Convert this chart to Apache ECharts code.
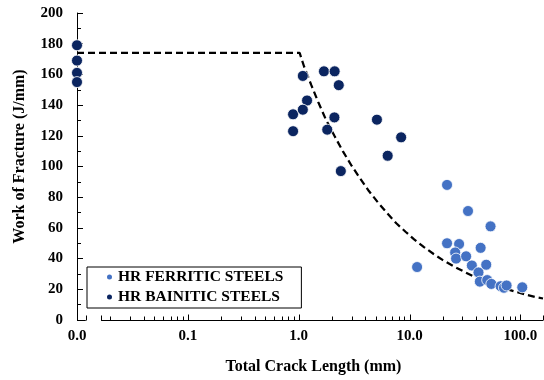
<!DOCTYPE html>
<html>
<head>
    <meta charset="utf-8">
    <title>Work of Fracture</title>
    <script src="https://cdn.jsdelivr.net/npm/echarts@6/dist/echarts.min.js"></script>
    <style>
        body { margin: 0; background: #fff; }
        #main { width: 544px; height: 380px; }
    </style>
</head>
<body>
<div id="main"></div>
<script type="text/javascript">
// 数据: [裂纹总长 mm, 断裂功 J/mm]
var ferritic = [
    [21.8, 88], [33.7, 71], [53.8, 61], [21.8, 50], [28.0, 49.5],
    [43.8, 47], [25.8, 44], [26.3, 40], [32.4, 41.5], [36.5, 35.5],
    [49.2, 36], [41.9, 31], [11.7, 34.5], [43.1, 25], [50.2, 26],
    [54.7, 23.5], [66.3, 22], [71.1, 21], [75.1, 22.5], [104, 21.3]
];
var bainitic = [
    [0.01, 179], [0.01, 169], [0.01, 161], [0.01, 155],
    [1.09, 159], [1.69, 162], [2.11, 162], [2.30, 153], [1.19, 143],
    [0.89, 134], [1.09, 137], [2.10, 132], [5.08, 130.5], [0.89, 123],
    [1.81, 124], [8.4, 119], [6.35, 107], [2.40, 97]
];
// 虚线
var trend = [
    [0.01, 174], [1.02, 174], [1.12, 165], [1.3, 153], [1.5, 142],
    [1.75, 131], [2.1, 120], [2.5, 110], [3.0, 100.5], [3.6, 92],
    [4.3, 84], [5.2, 76.5], [6.3, 69.5], [7.6, 63], [9.2, 57.5],
    [11, 52.5], [13.5, 47.5], [16.5, 43], [20, 39], [25, 35],
    [31, 31.5], [38, 28.3], [47, 25.5], [58, 23], [72, 20.6],
    [90, 18.5], [112, 16.5], [135, 15], [160, 14]
];
var majorTicks = [0.01, 0.1, 1, 10, 100];
var minorTicks = [
    0.02, 0.03, 0.04, 0.05, 0.06, 0.07, 0.08, 0.09,
    0.2, 0.3, 0.4, 0.5, 0.6, 0.7, 0.8, 0.9,
    2, 3, 4, 5, 6, 7, 8, 9,
    20, 30, 40, 50, 60, 70, 80, 90
];
// x轴断开的两段
var axisSegments = [[0.01, 0.012], [0.0165, 160]];

var font = 'Liberation Serif';
var myChart = echarts.init(document.getElementById('main'));

function snap(v) { return Math.round(v) + 0.5; }

myChart.setOption({
    animation: false,
    textStyle: { fontFamily: font, fontWeight: 'bold', color: '#000' },
    grid: { left: 77, right: 1, top: 13, bottom: 60 },
    legend: {
        orient: 'vertical',
        left: 87,
        top: 267,
        data: ['HR FERRITIC STEELS', 'HR BAINITIC STEELS'],
        icon: 'circle',
        itemWidth: 7,
        itemHeight: 7,
        itemGap: 4,
        padding: [2, 18, 3, 18],
        borderColor: '#000',
        borderWidth: 1,
        textStyle: { fontFamily: font, fontWeight: 'bold', fontSize: 15.5, color: '#000' }
    },
    xAxis: {
        type: 'log',
        logBase: 10,
        min: 0.01,
        max: 160,
        name: 'Total Crack Length (mm)',
        nameLocation: 'middle',
        nameGap: 39,
        nameTextStyle: { fontFamily: font, fontWeight: 'bold', fontSize: 16, color: '#000', padding: [0, 0, 0, 7] },
        axisLine: { show: false },
        axisTick: { show: false },
        splitLine: { show: false },
        axisLabel: {
            margin: 9,
            fontFamily: font, fontWeight: 'bold', fontSize: 15, color: '#000',
            formatter: function (v) { return v.toFixed(1); }
        }
    },
    yAxis: {
        type: 'value',
        min: 0,
        max: 200,
        interval: 20,
        name: 'Work of Fracture (J/mm)',
        nameLocation: 'middle',
        nameGap: 49,
        nameTextStyle: { fontFamily: font, fontWeight: 'bold', fontSize: 16, color: '#000', padding: [0, 0, 0, 20] },
        axisLine: { show: true, lineStyle: { color: '#000', width: 1 } },
        axisTick: { show: true, inside: true, length: 6, lineStyle: { color: '#000' } },
        minorTick: { show: true, splitNumber: 2, length: 4, lineStyle: { color: '#000' } },
        splitLine: { show: false },
        axisLabel: { margin: 14, fontFamily: font, fontWeight: 'bold', fontSize: 15, color: '#000' }
    },
    series: [
        {
            name: 'trend',
            type: 'line',
            data: trend,
            showSymbol: false,
            smooth: false,
            lineStyle: { color: '#000', width: 2.25, type: [7, 4] },
            z: 1
        },
        {
            name: 'HR FERRITIC STEELS',
            type: 'scatter',
            data: ferritic,
            symbolSize: 11,
            itemStyle: { color: '#4472C4', borderColor: '#fff', borderWidth: 0.8, opacity: 1 },
            z: 3
        },
        {
            name: 'HR BAINITIC STEELS',
            type: 'scatter',
            data: bainitic,
            symbolSize: 11,
            itemStyle: { color: '#0B2560', borderColor: '#fff', borderWidth: 0.8, opacity: 1 },
            z: 3
        },
        {
            // x轴线(断开)
            type: 'custom',
            clip: false,
            silent: true,
            data: axisSegments,
            renderItem: function (params, api) {
                var a = api.coord([api.value(0), 0]);
                var b = api.coord([api.value(1), 0]);
                var y = snap(a[1]);
                return {
                    type: 'group',
                    children: [
                        { type: 'line', shape: { x1: a[0], y1: y, x2: b[0], y2: y }, style: { stroke: '#000', lineWidth: 1 } },
                        { type: 'line', shape: { x1: snap(a[0]), y1: y, x2: snap(a[0]), y2: y - 5 }, style: { stroke: '#000', lineWidth: 1 } },
                        { type: 'line', shape: { x1: snap(b[0]), y1: y, x2: snap(b[0]), y2: y - 5 }, style: { stroke: '#000', lineWidth: 1 } }
                    ]
                };
            },
            z: 5
        },
        {
            // x轴刻度
            type: 'custom',
            clip: false,
            silent: true,
            data: majorTicks.concat(minorTicks).map(function (v) { return [v]; }),
            renderItem: function (params, api) {
                var v = api.value(0);
                var p = api.coord([v, 0]);
                var len = majorTicks.indexOf(v) >= 0 ? 6 : 4;
                var x = snap(p[0]);
                var y = snap(p[1]);
                return { type: 'line', shape: { x1: x, y1: y, x2: x, y2: y - len }, style: { stroke: '#000', lineWidth: 1 } };
            },
            z: 5
        }
    ]
});
</script>
</body>
</html>
